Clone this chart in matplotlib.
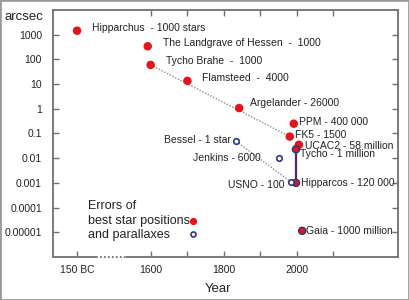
import numpy             as np
import matplotlib
matplotlib.use('Agg')
import matplotlib.pyplot as plt
from matplotlib.patches import Rectangle

plt.rcParams['font.family'] = ['Liberation Sans', 'DejaVu Sans']

# Best star positions (filled red)
pos_labels = ['Hipparchus  - 1000 stars', 'The Landgrave of Hessen  -  1000',
              'Tycho Brahe  -  1000', 'Flamsteed  -  4000', 'Argelander - 26000',
              'PPM - 400 000', 'FK5 - 1500', 'UCAC2 - 58 million',
              'Tycho - 1 million', 'Hipparcos - 120 000', 'Gaia - 1000 million']
pos_years  = [-150, 1591, 1599, 1700, 1842, 1992, 1981, 2006, 1998, 1998, 2015]
pos_errors = [1450, 340, 60, 13.5, 1.07, 0.25, 0.075, 0.035, 0.023, 0.001, 1.15e-5]

# Parallaxes (open circles)
par_labels = ['Bessel - 1 star', 'Jenkins - 6000', 'USNO - 100']
par_years  = [1834, 1951, 1984]
par_errors = [0.048, 0.01, 0.0011]

legend_lines  = ['Errors of', 'best star positions', 'and parallaxes']

y_ticks       = [1e3, 1e2, 1e1, 1, 0.1, 0.01, 0.001, 1e-4, 1e-5]
y_tick_labels = ['1000', '100', '10', '1', '0.1', '0.01', '0.001', '0.0001', '0.00001']
x_ticks       = [-150, 1600, 1700, 1800, 1900, 2000, 2100]
x_tick_labels = ['150 BC', '1600', '', '1800', '', '2000', '']

red  = '#e3141c'
navy = '#2b3580'
grey = '#707070'
ink  = '#222222'

x_min, x_max = 1331, 2278
gap_lo, gap_hi = 1449, 1531


def xpos(year):
    # broken axis: antiquity squeezed next to 1600
    year = np.asarray(year, dtype=float)
    return np.where(year < 1500, 1397.0, year)


def xfrac(x):
    return (x - x_min) / (x_max - x_min)


# label offsets in pixels (dx, dy)
pos_offsets = [(15, 3), (15, 3), (15, 4), (15, 3), (11, 5), (5, 2), (5, 2),
               (6, -1), (4, -5), (5, 0), (4, 0)]
par_offsets = [(-5, 1), (-18, 0), (-6, -3)]

fig = plt.figure(figsize=(4.09, 3.00), dpi=100)
ax  = fig.add_axes([0.1296, 0.1433, 0.8434, 0.8234])
ax.set_yscale('log')

# dotted trend lines
ax.plot(xpos([pos_years[2], pos_years[6]]), [pos_errors[2], pos_errors[6]],
        ls=(0, (1, 1.2)), color='#8a8a8a', lw=1.0, zorder=1)
ax.plot(xpos([par_years[0], par_years[2]]), [par_errors[0], par_errors[2]],
        ls=(0, (1, 1.2)), color='#8a8a8a', lw=1.0, zorder=1)
# Tycho -> Hipparcos bar
ax.plot(xpos([pos_years[8], pos_years[9]]), [pos_errors[8], pos_errors[9]],
        color='#4b2d6e', lw=1.6, zorder=2)

# points
edge = [red] * 8 + [navy] * 3
ax.scatter(xpos(pos_years), pos_errors, s=26, color=red, edgecolors=edge,
           linewidths=1.0, zorder=3)
ax.scatter(xpos(par_years), par_errors, s=16, facecolors='white',
           edgecolors=navy, linewidths=1.2, zorder=3)

# labels
for lab, yr, err, off in zip(pos_labels, pos_years, pos_errors, pos_offsets):
    ax.annotate(lab, (float(xpos(yr)), err), xytext=off, textcoords='offset pixels',
                ha='left', va='center', fontsize=7.5, color=ink)
for lab, yr, err, off in zip(par_labels, par_years, par_errors, par_offsets):
    ax.annotate(lab, (float(xpos(yr)), err), xytext=off, textcoords='offset pixels',
                ha='right', va='center', fontsize=7.5, color=ink)

# legend block
for txt, yy in zip(legend_lines, [0.206, 0.146, 0.088]):
    ax.text(0.101, yy, txt, transform=ax.transAxes, fontsize=9, color=ink,
            va='center', ha='left')
ax.plot([0.405], [0.147], 'o', ms=4.2, color=red, transform=ax.transAxes)
ax.plot([0.405], [0.093], 'o', ms=3.6, mfc='white', mec=navy, mew=1.2,
        transform=ax.transAxes)

# axes styling
ax.set_yticks(y_ticks)
ax.set_yticklabels(y_tick_labels)
ax.minorticks_off()
ax.set_xticks(xpos(x_ticks))
ax.set_xticklabels(x_tick_labels)
ax.set_ylim(1e-6, 1e4)
ax.set_xlim(x_min, x_max)
ax.tick_params(direction='in', length=4, width=1, color=grey, labelsize=7.5,
               labelcolor=ink, right=True)
ax.tick_params(axis='x', pad=6)
ax.tick_params(axis='y', pad=8)
for side in ['left', 'right', 'top']:
    ax.spines[side].set_color(grey)
    ax.spines[side].set_linewidth(1.3)
ax.spines['bottom'].set_visible(False)

# top ticks (no 150 BC)
top = ax.twiny()
top.set_xlim(x_min, x_max)
top.set_xticks(x_ticks[1:])
top.set_xticklabels([])
top.tick_params(direction='in', length=4, width=1, color=grey)
for side in top.spines:
    top.spines[side].set_visible(False)

# broken bottom axis
ax.plot([0, xfrac(gap_lo)], [0, 0], color=grey, lw=1.3, solid_capstyle='butt',
        transform=ax.transAxes, clip_on=False, zorder=5)
ax.plot([xfrac(gap_hi), 1], [0, 0], color=grey, lw=1.3, solid_capstyle='butt',
        transform=ax.transAxes, clip_on=False, zorder=5)
ax.plot([xfrac(gap_lo), xfrac(gap_hi)], [0, 0], color=grey, lw=1.3,
        ls=(0, (1, 1.2)), transform=ax.transAxes, clip_on=False, zorder=5)

ax.set_xlabel('Year', fontsize=9.5, color=ink)
ax.xaxis.set_label_coords(0.478, -0.105)
fig.text(0.012, 0.945, 'arcsec', fontsize=9.5, color=ink, va='center')

fig.patches.append(Rectangle((0, 0), 1, 1, transform=fig.transFigure,
                             fill=False, edgecolor='#9a9a9a', lw=2))

plt.savefig('out.png', dpi=100)
